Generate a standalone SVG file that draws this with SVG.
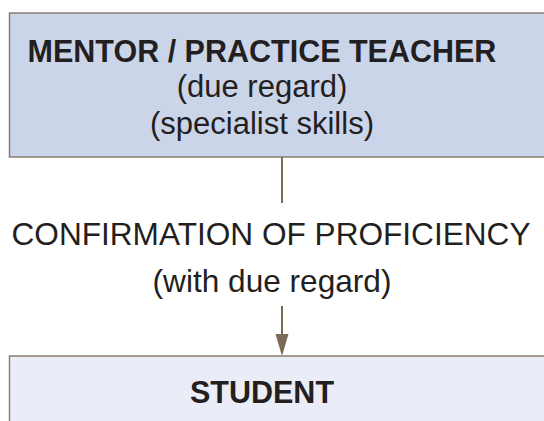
<svg xmlns="http://www.w3.org/2000/svg" width="544" height="421" viewBox="0 0 544 421">
<style>
.box{stroke:#8b7f70;stroke-width:1.5}
.b{font-family:"Liberation Sans",Arial,sans-serif;font-weight:bold;font-size:30.5px;fill:#231f20;text-anchor:middle}
.r{font-family:"Liberation Sans",Arial,sans-serif;font-size:31px;fill:#231f20;text-anchor:middle}
.lbl{font-size:31.6px}
.c{stroke:#7b6a55;stroke-width:2;fill:none}
</style>
<rect width="544" height="421" fill="#ffffff"/>
<g id="mentor">
<rect class="box" x="9.5" y="13" width="545" height="144" fill="#cbd5ea"/>
<text class="b" x="262" y="62">MENTOR / PRACTICE TEACHER</text>
<text class="r" x="262" y="97">(due regard)</text>
<text class="r" x="262" y="134">(specialist skills)</text>
</g>
<g id="student">
<rect class="box" x="9.5" y="356" width="545" height="80" fill="#eaedf7"/>
<text class="b" x="262" y="403">STUDENT</text>
</g>
<g id="connectors">
<line class="c" x1="282" y1="157" x2="282" y2="203"/>
<line class="c" x1="282" y1="306" x2="282" y2="336"/>
<path d="M275.5,334 L288.5,334 L282,356 Z" fill="#7b6a55"/>
<text class="r lbl" x="271" y="245">CONFIRMATION OF PROFICIENCY</text>
<text class="r lbl" x="272" y="292">(with due regard)</text>
</g>
</svg>
